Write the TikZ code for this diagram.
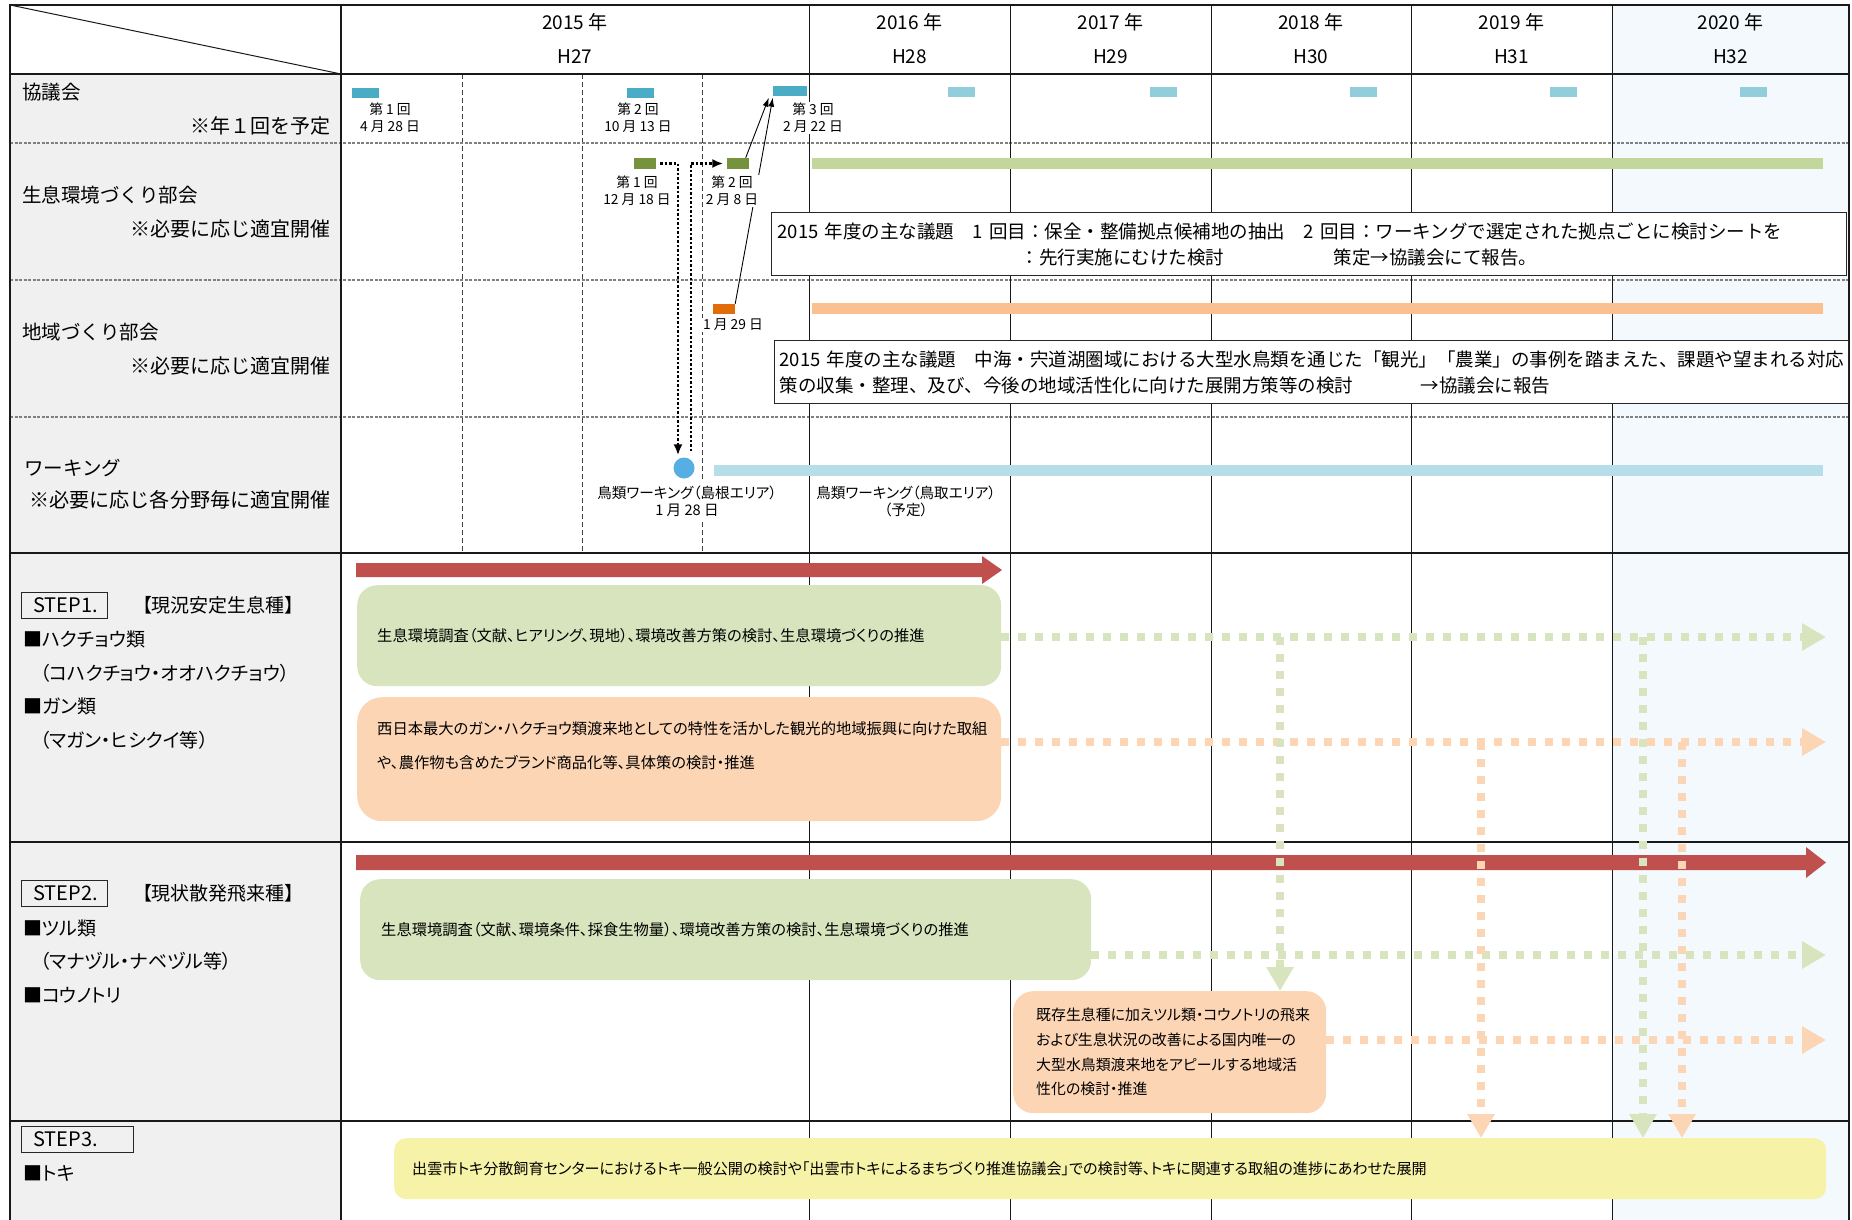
\documentclass[tikz,border=0pt]{standalone}
\usepackage{fontspec}
\setmainfont{Noto Sans CJK JP}
\newfontfamily\jpp[RawFeature=+palt]{Noto Sans CJK JP}
\usetikzlibrary{arrows.meta}
\definecolor{lgray}{HTML}{F0F0F0}
\definecolor{col20}{HTML}{F3F9FD}
\definecolor{kyoA}{HTML}{4BACC6}
\definecolor{kyoB}{HTML}{92CDDC}
\definecolor{sgreen}{HTML}{76923C}
\definecolor{sorange}{HTML}{E36C0A}
\definecolor{gbar}{HTML}{C3D69B}
\definecolor{obar}{HTML}{FAC090}
\definecolor{bbar}{HTML}{B7DEE8}
\definecolor{circ}{HTML}{56AEE2}
\definecolor{redA}{HTML}{C0504D}
\definecolor{gboxc}{HTML}{D7E4BD}
\definecolor{oboxc}{HTML}{FCD5B5}
\definecolor{yboxc}{HTML}{F6F3A8}
\definecolor{rowdashc}{HTML}{808080}
\tikzset{
  frame/.style={draw=black!90, line width=1.5pt},
  vline/.style={draw=black!90, line width=1pt},
  rdash/.style={draw=rowdashc, line width=1.2pt, dash pattern=on 3pt off 1.5pt},
  qdash/.style={draw=black!75, line width=0.9pt, dash pattern=on 5pt off 3pt},
  yeartxt/.style={font=\fontsize{19}{23}\selectfont, inner sep=0pt},
  rowlbl/.style={font=\fontsize{19.5}{24}\selectfont, inner sep=0pt, anchor=west},
  rownote/.style={font=\fontsize{20}{24}\selectfont, inner sep=0pt, anchor=east},
  kmark/.style={fill=#1, minimum width=27pt, minimum height=10pt, inner sep=0pt},
  smark/.style={fill=#1, minimum width=22pt, minimum height=11pt, inner sep=0pt},
  smalllbl/.style={font=\fontsize{13.8}{17}\selectfont, align=center, inner sep=1.5pt, fill=white},
  wlbl/.style={font=\jpp\fontsize{14.6}{17}\selectfont, align=center, fill=white, inner xsep=6pt, inner ysep=5pt},
  agenda/.style={draw=black!85, line width=1.4pt, fill=white, anchor=north west, align=left, font=\fontsize{18.5}{26}\selectfont, inner ysep=0pt},
  tarr/.style={draw=black, line width=0.9pt, -{Latex[length=9pt,width=6pt]}},
  bdot/.style={draw=black, line width=2.5pt, dash pattern=on 2.5pt off 2pt, -{Latex[length=11pt,width=9pt]}},
  stepbox/.style={draw=black!85, line width=1pt, anchor=west, align=left, font=\fontsize{20}{24}\selectfont, inner xsep=12pt, inner ysep=0pt, minimum height=26pt},
  steplbl/.style={font=\jpp\fontsize{19}{24}\selectfont, anchor=west, inner sep=0pt},
  pbox/.style={rounded corners=20pt, anchor=north west, align=left, inner ysep=0pt},
  gdash/.style={draw=gboxc, line width=8pt, dash pattern=on 8pt off 9pt, -{Triangle[length=24pt,width=26pt]}},
  odash/.style={draw=oboxc, line width=8pt, dash pattern=on 8pt off 9pt, -{Triangle[length=24pt,width=26pt]}}
}
\begin{document}
\begin{tikzpicture}[x=1pt,y=-1pt]
\useasboundingbox (0,0) rectangle (1852,1220);
% backgrounds
\fill[lgray] (10,74) rectangle (341,1220);
\fill[col20] (1612,5) rectangle (1849,1220);
% grid
\foreach \x in {462,582,702} \draw[qdash] (\x,74) -- (\x,553);
\foreach \y in {143,280,417} \draw[rdash] (10,\y) -- (1849,\y);
\foreach \x in {809,1010,1211,1411,1612} \draw[vline] (\x,5) -- (\x,1220);
\foreach \y in {74,553,842,1121} \draw[frame] (10,\y) -- (1849,\y);
\draw[frame] (10,1220) -- (10,5) -- (1849,5) -- (1849,1220);
\draw[frame] (341,5) -- (341,1220);
\draw[vline] (10,5) -- (341,74);
% header
\node[yeartxt] (y15) at (575,22) {2015 年};
\node[yeartxt] (h27) at (575,57) {H27};
\node[yeartxt] (y16) at (909.5,22) {2016 年};
\node[yeartxt] (h28) at (909.5,57) {H28};
\node[yeartxt] (y17) at (1110.5,22) {2017 年};
\node[yeartxt] (h29) at (1110.5,57) {H29};
\node[yeartxt] (y18) at (1311,22) {2018 年};
\node[yeartxt] (h30) at (1311,57) {H30};
\node[yeartxt] (y19) at (1511.5,22) {2019 年};
\node[yeartxt] (h31) at (1511.5,57) {H31};
\node[yeartxt] (y20) at (1730.5,22) {2020 年};
\node[yeartxt] (h32) at (1730.5,57) {H32};
% row labels
\node[rowlbl] (r1) at (22,92) {協議会};
\node[rownote] (r1n) at (331,126) {※年１回を予定};
\node[rowlbl] (r2) at (22,195) {生息環境づくり部会};
\node[rownote] (r2n) at (331,229) {※必要に応じ適宜開催};
\node[rowlbl] (r3) at (22,332) {地域づくり部会};
\node[rownote] (r3n) at (331,366) {※必要に応じ適宜開催};
\node[rowlbl] (r4) at (24,468) {ワーキング};
\node[rownote, font=\fontsize{20.1}{24}\selectfont] (r4n) at (331,500) {※必要に応じ各分野毎に適宜開催};
% bars
\fill[gbar] (812,158) rectangle (1823,169);
\fill[obar] (812,303) rectangle (1823,314);
\fill[bbar] (714,465) rectangle (1823,476);
% kyogikai marks
\node[kmark=kyoA] (k1) at (365.5,93) {};
\node[kmark=kyoA] (k2) at (640.5,93) {};
\node[kmark=kyoA, minimum width=34pt] (k3) at (790,91.5) {};
\node[kmark=kyoB] (k4) at (961.5,92) {};
\node[kmark=kyoB] (k5) at (1163.5,92) {};
\node[kmark=kyoB] (k6) at (1363.5,92) {};
\node[kmark=kyoB] (k7) at (1563.5,92) {};
\node[kmark=kyoB] (k8) at (1753.5,92) {};
% bukai marks
\node[smark=sgreen] (s1) at (645,163.5) {};
\node[smark=sgreen] (s2) at (737.5,163.5) {};
\node[smark=sorange, minimum height=10pt] (c1) at (724,309) {};
\node[circle, fill=circ, minimum size=21pt, inner sep=0pt] (w1) at (684,468) {};
% connectors
\draw[tarr] ([xshift=-3pt]s2.north east) -- ([xshift=-4pt,yshift=-1pt]k3.south west);
\draw[tarr] (c1.north east) -- ([yshift=-1pt]k3.south west);
\draw[bdot, shorten <=4pt] (s1.east) -| ([xshift=-6pt,yshift=2pt]w1.north);
\draw[bdot, shorten >=3pt] ([xshift=7pt,yshift=6pt]w1.north) |- (s2.west);
% small labels
\node[smalllbl] (k1l) at (390,118) {第 1 回\\4 月 28 日};
\node[smalllbl] (k2l) at (638,118) {第 2 回\\10 月 13 日};
\node[smalllbl] (k3l) at (813,118) {第 3 回\\2 月 22 日};
\node[smalllbl] (s1l) at (637,191) {第 1 回\\12 月 18 日};
\node[smalllbl] (s2l) at (732,191) {第 2 回\\2 月 8 日};
\node[smalllbl] (c1l) at (733,325) {1 月 29 日};
\node[wlbl] (w1l) at (687,501) {鳥類ワーキング（島根エリア）\\1 月 28 日};
\node[wlbl] (w2l) at (906,501) {鳥類ワーキング（鳥取エリア）\\（予定）};
% agenda boxes
\node[agenda, minimum width=1075pt, minimum height=63pt, text width=1063pt, inner xsep=6pt] (ag1) at (771,212)
 {2015 年度の主な議題　1 回目：保全・整備拠点候補地の抽出　2 回目：ワーキングで選定された拠点ごとに検討シートを\\
  \makebox[556pt][l]{\hspace*{243pt}：先行実施にむけた検討}策定→協議会にて報告。};
\node[agenda, minimum width=1074pt, minimum height=63pt, text width=1064pt, inner xsep=5pt] (ag2) at (774,340)
 {2015 年度の主な議題　中海・宍道湖圏域における大型水鳥類を通じた「観光」「農業」の事例を踏まえた、課題や望まれる対応\\
  \makebox[641pt][l]{策の収集・整理、及び、今後の地域活性化に向けた展開方策等の検討}→協議会に報告};
% STEP labels
\node[stepbox, text width=62pt] (st1) at (21,605) {STEP1.};
\node[steplbl] (st1t) at (142,605) {【現況安定生息種】};
\node[steplbl] (st1a) at (23,639) {■ハクチョウ類};
\node[steplbl] (st1b) at (40,673) {（コハクチョウ・オオハクチョウ）};
\node[steplbl] (st1c) at (23,706) {■ガン類};
\node[steplbl] (st1d) at (40,740) {（マガン・ヒシクイ等）};
\node[stepbox, text width=62pt] (st2) at (21,893.5) {STEP2.};
\node[steplbl] (st2t) at (142,893.5) {【現状散発飛来種】};
\node[steplbl] (st2a) at (23,928) {■ツル類};
\node[steplbl] (st2b) at (40,961) {（マナヅル・ナベヅル等）};
\node[steplbl] (st2c) at (23,995) {■コウノトリ};
\node[stepbox, text width=88pt] (st3) at (21,1139) {STEP3.};
\node[steplbl] (st3a) at (23,1173) {■トキ};
% red arrows
\fill[redA] (356,563) -- (982,563) -- (982,556) -- (1002,570) -- (982,584) -- (982,577) -- (356,577) -- cycle;
\fill[redA] (356,855) -- (1806,855) -- (1806,847) -- (1826,862.5) -- (1806,878) -- (1806,870) -- (356,870) -- cycle;
% boxes
\node[pbox, fill=gboxc, minimum height=101pt, text width=604pt, inner xsep=20pt, font=\jpp\fontsize{15.3}{20}\selectfont] (g1) at (357,585)
 {生息環境調査（文献、ヒアリング、現地）、環境改善方策の検討、生息環境づくりの推進};
\node[pbox, fill=oboxc, rounded corners=25pt, minimum height=124pt, text width=604pt, inner xsep=20pt, font=\jpp\fontsize{15.3}{34}\selectfont] (o1) at (357,697)
 {西日本最大のガン・ハクチョウ類渡来地としての特性を活かした観光的地域振興に向けた取組\\や、農作物も含めたブランド商品化等、具体策の検討・推進\\[-6pt]\mbox{}};
\node[pbox, fill=gboxc, minimum height=101pt, text width=689pt, inner xsep=21pt, font=\jpp\fontsize{15.3}{20}\selectfont] (g2) at (360,879)
 {生息環境調査（文献、環境条件、採食生物量）、環境改善方策の検討、生息環境づくりの推進};
\node[pbox, fill=oboxc, minimum height=122pt, text width=267pt, inner xsep=23pt, font=\jpp\fontsize{14.9}{24.7}\selectfont] (o2) at (1013,991)
 {既存生息種に加えツル類・コウノトリの飛来\\および生息状況の改善による国内唯一の\\大型水鳥類渡来地をアピールする地域活\\性化の検討・推進};
\node[pbox, fill=yboxc, rounded corners=12pt, minimum height=61pt, text width=1396pt, inner xsep=18pt, font=\jpp\fontsize{15.1}{20}\selectfont] (yb) at (394,1138)
 {出雲市トキ分散飼育センターにおけるトキ一般公開の検討や「出雲市トキによるまちづくり推進協議会」での検討等、トキに関連する取組の進捗にあわせた展開};
% dotted arrows (horizontal)
\coordinate (h1e) at (1826,637);
\coordinate (h2e) at (1826,955);
\coordinate (h3e) at (1826,742);
\coordinate (h4e) at (1826,1040);
\draw[gdash] (g1.east |- h1e) -- (h1e);
\draw[gdash] (g2.east |- h2e) -- (h2e);
\draw[odash] (o1.east |- h3e) -- (h3e);
\draw[odash] (o2.east |- h4e) -- (h4e);
% dotted arrows (vertical)
\coordinate (v1) at (1280,637);
\coordinate (v2) at (1643,637);
\coordinate (v3) at (1481,742);
\coordinate (v4) at (1682,742);
\draw[gdash] (v1) -- (v1 |- o2.north);
\draw[odash] (v3) -- (v3 |- yb.north);
\draw[gdash] (v2) -- (v2 |- yb.north);
\draw[odash] (v4) -- (v4 |- yb.north);
\end{tikzpicture}
\end{document}
